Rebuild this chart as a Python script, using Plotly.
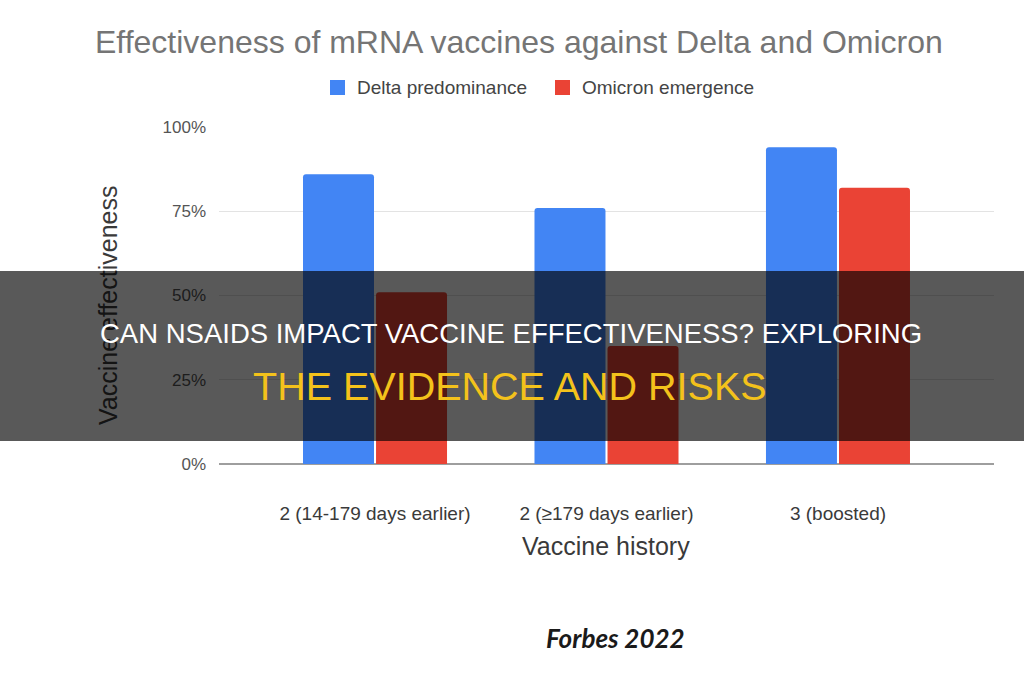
import plotly.graph_objects as go

# ---- data ----
categories = ["2 (14-179 days earlier)", "2 (≥179 days earlier)", "3 (boosted)"]
delta_values = [0.86, 0.76, 0.94]
omicron_values = [0.51, 0.35, 0.82]
series_names = ["Delta predominance", "Omicron emergence"]
y_ticks = [0, 0.25, 0.5, 0.75, 1.0]
y_tick_labels = ["0%", "25%", "50%", "75%", "100%"]

title_text = "Effectiveness of mRNA vaccines against Delta and Omicron"
x_title = "Vaccine history"
y_title = "Vaccine effectiveness"
source_text = "Forbes 2022"
banner_line1 = "CAN NSAIDS IMPACT VACCINE EFFECTIVENESS? EXPLORING"
banner_line2 = "THE EVIDENCE AND RISKS"

BLUE = "#4285F4"
RED = "#EA4335"

W, H = 1024, 680
PL, PR, PT, PB = 219, 994, 127, 464


def px(x):
    return (x - PL) / (PR - PL)


def py(y):
    return (PB - y) / (PB - PT)


xpos = list(range(len(categories)))

fig = go.Figure()
fig.add_trace(go.Bar(x=xpos, y=delta_values, name=series_names[0],
                     marker=dict(color=BLUE, line=dict(width=0))))
fig.add_trace(go.Bar(x=xpos, y=omicron_values, name=series_names[1],
                     marker=dict(color=RED, line=dict(width=0))))

FONT = "Liberation Sans, Arial, sans-serif"

annotations = [
    dict(text=title_text, x=px(519), y=py(42), xref="paper", yref="paper",
         showarrow=False, xanchor="center", yanchor="middle",
         font=dict(family=FONT, size=32, color="#757575")),
    dict(text=series_names[0], x=px(355), y=py(88), xref="paper", yref="paper",
         showarrow=False, xanchor="left", yanchor="middle",
         font=dict(family=FONT, size=19, color="#444444")),
    dict(text=series_names[1], x=px(580), y=py(88), xref="paper", yref="paper",
         showarrow=False, xanchor="left", yanchor="middle",
         font=dict(family=FONT, size=19, color="#444444")),
    dict(text=y_title, x=px(108), y=py(305), xref="paper", yref="paper",
         showarrow=False, xanchor="center", yanchor="middle", textangle=-90,
         font=dict(family=FONT, size=25, color="#3a3a3a")),
    dict(text=x_title, x=px(606), y=py(546), xref="paper", yref="paper",
         showarrow=False, xanchor="center", yanchor="middle",
         font=dict(family=FONT, size=25, color="#3a3a3a")),
    dict(text="<b><i>" + source_text + "</i></b>", x=px(615), y=py(638),
         xref="paper", yref="paper", showarrow=False,
         xanchor="center", yanchor="middle",
         font=dict(family="Lato, Open Sans, sans-serif", size=26, color="#1a1a1a")),
    # dark banner
    dict(text=" ", x=px(512), y=py(356), xref="paper", yref="paper",
         showarrow=False, xanchor="center", yanchor="middle",
         width=1040, height=170, borderpad=0, borderwidth=0,
         bgcolor="rgba(0,0,0,0.65)", font=dict(size=10)),
    dict(text=banner_line1, x=px(511), y=py(333), xref="paper", yref="paper",
         showarrow=False, xanchor="center", yanchor="middle",
         font=dict(family=FONT, size=27.5, color="#ffffff")),
    dict(text=banner_line2, x=px(510), y=py(386), xref="paper", yref="paper",
         showarrow=False, xanchor="center", yanchor="middle",
         font=dict(family=FONT, size=39.5, color="#F4C21B")),
]

shapes = [
    dict(type="rect", xref="paper", yref="paper",
         x0=px(330), x1=px(345), y0=py(80), y1=py(95),
         fillcolor=BLUE, line=dict(width=0)),
    dict(type="rect", xref="paper", yref="paper",
         x0=px(555), x1=px(570), y0=py(80), y1=py(95),
         fillcolor=RED, line=dict(width=0)),
]

fig.update_layout(
    width=W, height=H,
    margin=dict(l=PL, r=W - PR, t=PT, b=H - PB, pad=0),
    paper_bgcolor="white", plot_bgcolor="white",
    barmode="group", bargap=0.369, bargroupgap=0.028,
    barcornerradius=3,
    showlegend=False,
    annotations=annotations,
    shapes=shapes,
    font=dict(family=FONT),
)
fig.update_xaxes(
    range=[-0.674, 2.674], tickmode="array", tickvals=xpos, ticktext=categories,
    showgrid=False, showline=False, zeroline=False, ticks="",
    ticklabelstandoff=36,
    tickfont=dict(family=FONT, size=19, color="#3a3a3a"),
)
fig.update_yaxes(
    range=[0, 1], tickmode="array", tickvals=y_ticks, ticktext=y_tick_labels,
    showgrid=True, gridcolor="#e3e3e3", gridwidth=1,
    zeroline=True, zerolinecolor="#9e9e9e", zerolinewidth=2,
    showline=False, ticks="", ticklabelstandoff=12,
    tickfont=dict(family=FONT, size=17, color="#555555"),
)

fig.write_html("out.html")
